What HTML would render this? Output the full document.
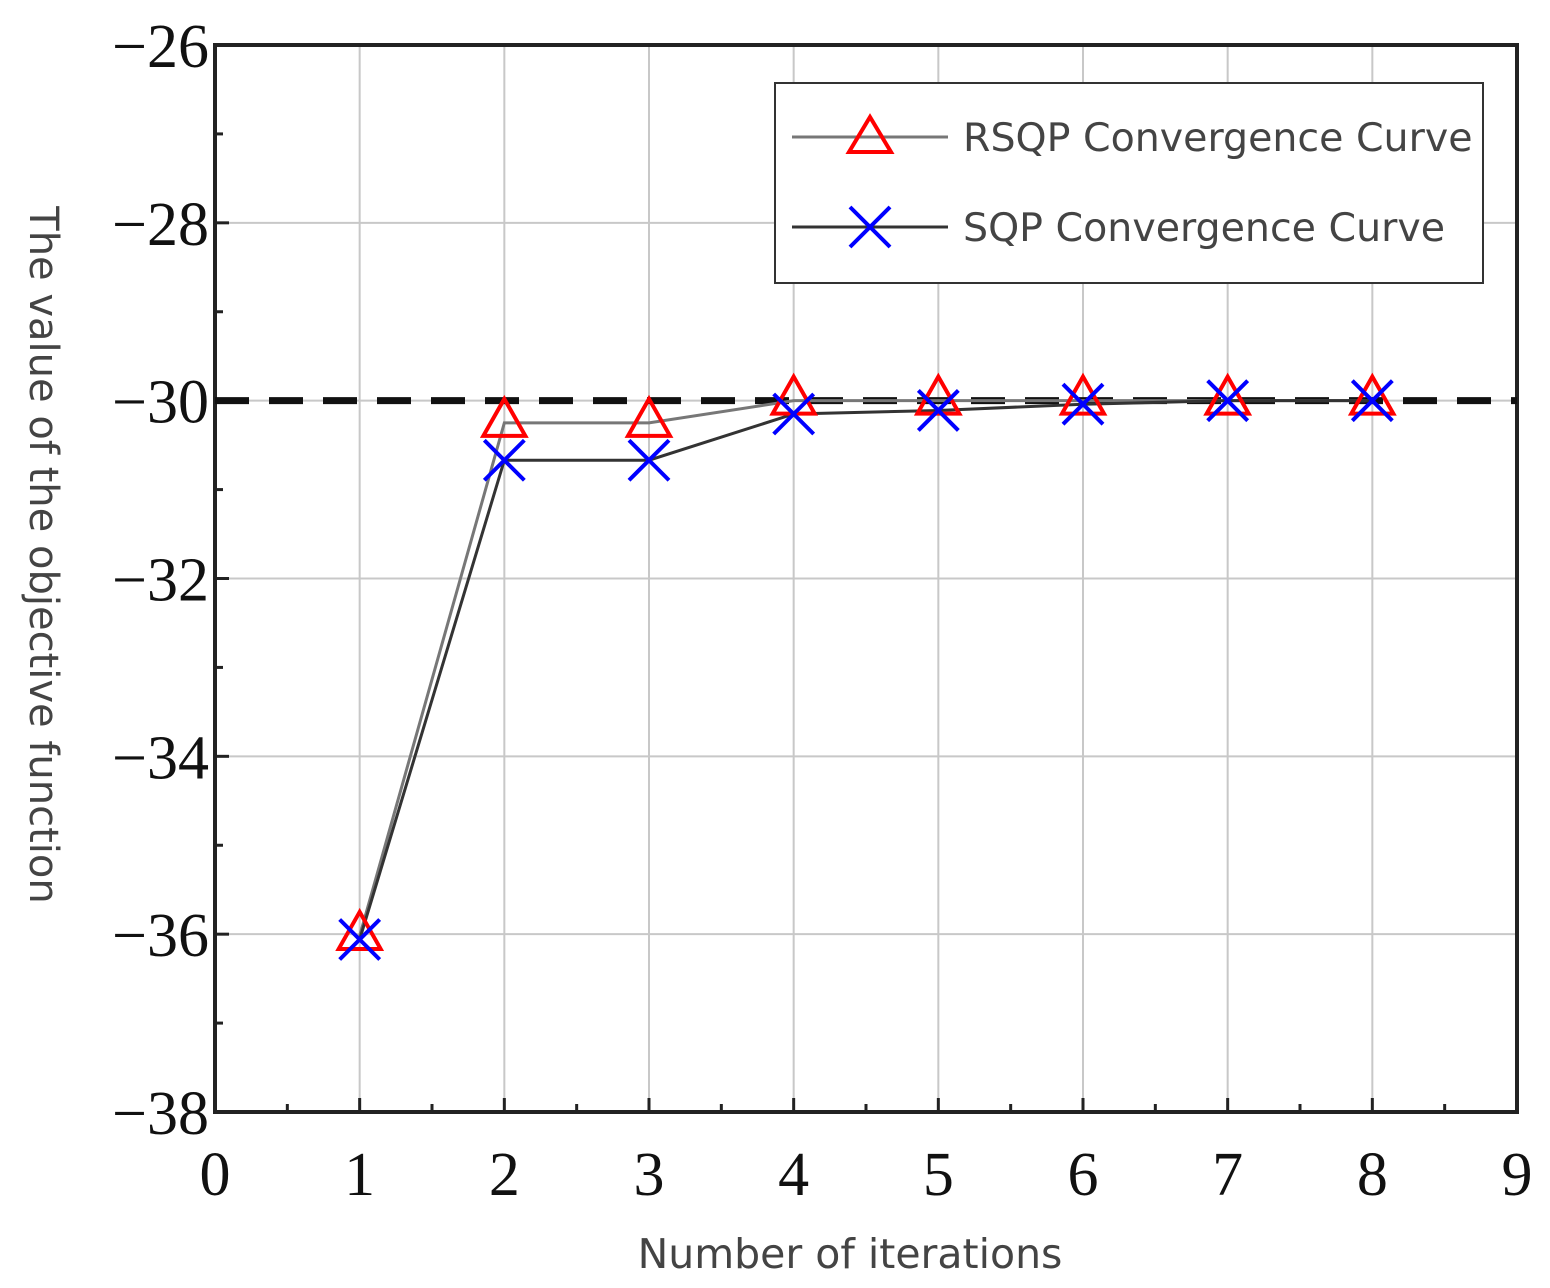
<!DOCTYPE html>
<html><head><meta charset="utf-8"><style>
body{margin:0;background:#fff;}
svg{display:block;}
.tick{font-family:"Liberation Serif",serif;font-size:62px;fill:#111;}
.lab{font-family:"DejaVu Sans","Liberation Sans",sans-serif;font-size:40px;fill:#444;}
.leg{font-family:"DejaVu Sans","Liberation Sans",sans-serif;font-size:39.5px;fill:#444;}
</style></head><body>
<svg id="chart" width="1550" height="1288">
<g id="grid"></g>
<g id="axes"></g>
<g id="series"></g>
<text class="lab" x="850" y="1268" text-anchor="middle" style="font-size:41px">Number of iterations</text>
<text class="lab" transform="translate(30,555) rotate(90)" text-anchor="middle">The value of the objective function</text>
<g>
<rect x="775" y="83" width="708" height="200" fill="#fff" stroke="#333" stroke-width="2"/>
<g>
<line x1="792" y1="137" x2="948" y2="137" stroke="#777" stroke-width="3"/>
<polygon points="870,117 849,152 891,152" fill="none" stroke="#f00" stroke-width="4"/>
<text class="leg" x="963" y="151">RSQP Convergence Curve</text>
</g>
<g>
<line x1="792" y1="227" x2="948" y2="227" stroke="#333" stroke-width="3"/>
<path d="M850,207 L890,247 M890,207 L850,247" stroke="#00f" stroke-width="4"/>
<text class="leg" x="963" y="241">SQP Convergence Curve</text>
</g>
</g>
</svg>
<script>
const iterations=[1,2,3,4,5,6,7,8];
const rsqpValues=[-36.02,-30.25,-30.25,-30.0,-30.0,-30.0,-30.0,-30.0];
const sqpValues=[-36.06,-30.67,-30.67,-30.15,-30.11,-30.04,-30.0,-30.0];
const xTicks=[0,1,2,3,4,5,6,7,8,9];
const yTicks=[-38,-36,-34,-32,-30,-28,-26];
const refValue=-30;
const L=215,R=1517,T=45,B=1112;
const xs=v=>L+(v-0)/(9-0)*(R-L);
const ys=v=>B-(v+38)/12*(B-T);
const NS='http://www.w3.org/2000/svg';
function mk(tag,attrs,parent){const e=document.createElementNS(NS,tag);for(const k in attrs)e.setAttribute(k,attrs[k]);parent.appendChild(e);return e;}
const grid=document.getElementById('grid'),axes=document.getElementById('axes'),ser=document.getElementById('series');
xTicks.forEach(v=>{
 if(v>0&&v<9){const g=mk('line',{x1:xs(v),x2:xs(v),y1:T,y2:B,stroke:'#c8c8c8','stroke-width':2},grid);
 
 }
 const t=mk('text',{x:xs(v),y:B+83,'text-anchor':'middle',class:'tick'},axes);t.textContent=v;
 
 
 mk('line',{x1:xs(v),x2:xs(v),y1:B,y2:B-14,stroke:'#222','stroke-width':3},axes);
 if(v<9)mk('line',{x1:xs(v+0.5),x2:xs(v+0.5),y1:B,y2:B-8,stroke:'#222','stroke-width':3},axes);
});
yTicks.forEach(v=>{
 if(v>-38&&v<-26){const g=mk('line',{x1:L,x2:R,y1:ys(v),y2:ys(v),stroke:'#c8c8c8','stroke-width':2},grid);
 
 }
 const t=mk('text',{x:L-6,y:ys(v)+22,'text-anchor':'end',class:'tick'},axes);t.textContent='\u2212'+Math.abs(v);
 
 
 mk('line',{x1:L,x2:L+14,y1:ys(v),y2:ys(v),stroke:'#222','stroke-width':3},axes);
 if(v<-26)mk('line',{x1:L,x2:L+8,y1:ys(v+1),y2:ys(v+1),stroke:'#222','stroke-width':3},axes);
});
const fr=mk('rect',{x:L,y:T,width:R-L,height:B-T,fill:'none',stroke:'#222','stroke-width':4},axes);


const ref=mk('line',{x1:L,x2:R,y1:ys(refValue),y2:ys(refValue),stroke:'#111','stroke-width':7,'stroke-dasharray':'34 20'},ser);


const pr=mk('polyline',{points:iterations.map((x,i)=>xs(x)+','+ys(rsqpValues[i])).join(' '),fill:'none',stroke:'#777','stroke-width':3},ser);


const ps=mk('polyline',{points:iterations.map((x,i)=>xs(x)+','+ys(sqpValues[i])).join(' '),fill:'none',stroke:'#333','stroke-width':3},ser);


iterations.forEach((x,i)=>{
 const cx=xs(x),cy=ys(rsqpValues[i]);
 const p=mk('polygon',{points:`${cx},${cy-24} ${cx-21},${cy+13} ${cx+21},${cy+13}`,fill:'none',stroke:'#f00','stroke-width':4},ser);
 
 
});
iterations.forEach((x,i)=>{
 const cx=xs(x),cy=ys(sqpValues[i]);
 const p=mk('path',{d:`M${cx-20},${cy-20} L${cx+20},${cy+20} M${cx+20},${cy-20} L${cx-20},${cy+20}`,stroke:'#00f','stroke-width':4},ser);
 
 
});
</script>
</body></html>
